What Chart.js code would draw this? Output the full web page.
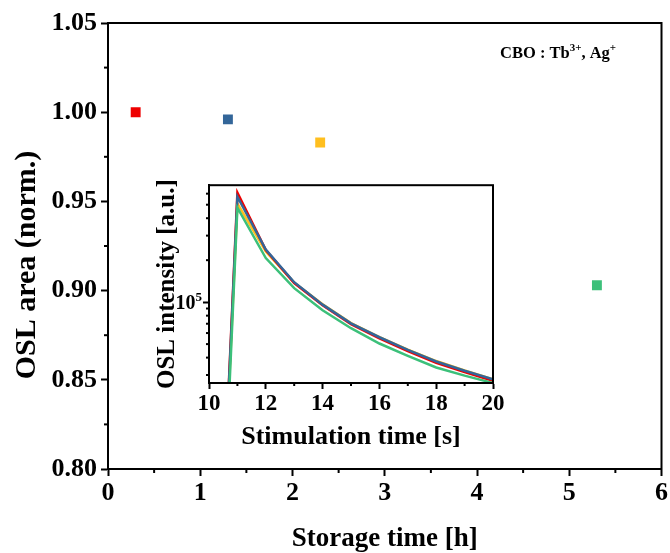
<!DOCTYPE html>
<html>
<head>
<meta charset="utf-8">
<script src="https://cdn.jsdelivr.net/npm/chart.js@4"></script>
<style>
  body { margin: 0; background: #fff; }
  #wrap { position: relative; width: 670px; height: 553px; }
  #main { position: absolute; left: 0; top: 0; }
  #inset { position: absolute; left: 140px; top: 175px; }
</style>
</head>
<body>
<div id="wrap">
  <canvas id="main" width="670" height="553"></canvas>
  <canvas id="inset" width="370" height="280"></canvas>
</div>
<script>
// main plot: normalised OSL area vs storage time
const storageHours = [0.3, 1.3, 2.3, 5.3];
const oslArea = [1.000, 0.996, 0.983, 0.903];
const pointColors = ["#ee0000", "#336699", "#ffbf1f", "#3cc07a"];
const storageTicks = [0, 1, 2, 3, 4, 5, 6];
const areaTicks = [0.80, 0.85, 0.90, 0.95, 1.00, 1.05];

// inset: OSL decay curves
const stimTime = [10, 11, 12, 13, 14, 15, 16, 17, 18, 19, 20];
const curveRed    = [18, 6.1e5, 2.36e5, 1.37e5, 9.5e4, 6.95e4, 5.5e4, 4.45e4, 3.67e4, 3.15e4, 2.73e4];
const curveBlue   = [18, 5.7e5, 2.38e5, 1.39e5, 9.6e4, 7.05e4, 5.6e4, 4.55e4, 3.75e4, 3.22e4, 2.8e4];
const curveYellow = [18, 5.1e5, 2.31e5, 1.38e5, 9.65e4, 7.08e4, 5.62e4, 4.57e4, 3.78e4, 3.23e4, 2.8e4];
const curveGreen  = [12, 4.76e5, 2.07e5, 1.26e5, 8.75e4, 6.5e4, 5.05e4, 4.12e4, 3.4e4, 2.97e4, 2.63e4];
const stimTicks = [10, 12, 14, 16, 18, 20];

Chart.defaults.font.family = "'Liberation Serif', 'Times New Roman', serif";
Chart.defaults.font.weight = "bold";
Chart.defaults.color = "#000";

// box around the plot area + short minor ticks + optional texts
const frame = {
  id: "frame",
  afterDraw(chart, args, opts) {
    const { ctx, chartArea: a } = chart;
    ctx.save();
    ctx.strokeStyle = "#000";
    ctx.lineWidth = 2;
    ctx.strokeRect(a.left, a.top, a.right - a.left, a.bottom - a.top);
    (opts.minor || []).forEach((m) => {
      const s = chart.scales[m.axis];
      m.values.forEach((v) => {
        const p = s.getPixelForValue(v);
        ctx.beginPath();
        if (s.isHorizontal()) {
          ctx.moveTo(p, a.bottom);
          ctx.lineTo(p, a.bottom + m.len);
        } else {
          ctx.moveTo(a.left, p);
          ctx.lineTo(a.left - m.len, p);
        }
        ctx.stroke();
      });
    });
    if (opts.draw) opts.draw(chart, ctx);
    ctx.restore();
  },
};

// text with raised parts, e.g. [["Tb", false], ["3+", true]]
function drawParts(ctx, parts, x, y, size, align) {
  const sup = Math.round(size * 0.65);
  let w = 0;
  parts.forEach(([t, up]) => {
    ctx.font = "bold " + (up ? sup : size) + "px 'Liberation Serif'";
    w += ctx.measureText(t).width;
  });
  let cx = align === "right" ? x - w : x;
  ctx.textBaseline = "alphabetic";
  ctx.textAlign = "left";
  ctx.fillStyle = "#000";
  parts.forEach(([t, up]) => {
    ctx.font = "bold " + (up ? sup : size) + "px 'Liberation Serif'";
    ctx.fillText(t, cx, up ? y - size * 0.4 : y);
    cx += ctx.measureText(t).width;
  });
}

new Chart(document.getElementById("main"), {
  type: "scatter",
  data: {
    datasets: [
      {
        data: storageHours.map((h, i) => ({ x: h, y: oslArea[i] })),
        pointStyle: "rect",
        pointRadius: 7,
        pointHoverRadius: 7,
        backgroundColor: pointColors,
        borderColor: pointColors,
        borderWidth: 0,
      },
    ],
  },
  options: {
    responsive: false,
    animation: false,
    layout: { padding: { top: 23, right: 8, left: 0, bottom: 0 } },
    plugins: {
      legend: { display: false },
      tooltip: { enabled: false },
      frame: {
        minor: [
          { axis: "x", len: 4, values: [0.5, 1.5, 2.5, 3.5, 4.5, 5.5] },
          { axis: "y", len: 4, values: [0.825, 0.875, 0.925, 0.975, 1.025] },
        ],
        draw(chart, ctx) {
          drawParts(ctx, [["CBO : Tb", false], ["3+", true], [", Ag", false], ["+", true]], 500, 58, 16.5, "left");
          // y title, sits a little below the middle of the axis in the original
          ctx.save();
          ctx.translate(27, 265);
          ctx.rotate(-Math.PI / 2);
          ctx.font = "bold 30px 'Liberation Serif'";
          ctx.textAlign = "center";
          ctx.textBaseline = "middle";
          ctx.fillText("OSL area (norm.)", 0, 0);
          ctx.restore();
        },
      },
    },
    scales: {
      x: {
        type: "linear",
        min: 0,
        max: 6,
        afterBuildTicks: (s) => { s.ticks = storageTicks.map((v) => ({ value: v })); },
        afterFit: (s) => { s.height = 84; },
        border: { display: true, width: 2, color: "#000" },
        grid: { drawOnChartArea: false, drawTicks: true, tickLength: 7, tickWidth: 2, tickColor: "#000" },
        ticks: { font: { size: 26 }, padding: 2, callback: (v) => String(v) },
        title: { display: true, text: "Storage time [h]", font: { size: 27, lineHeight: 1 }, padding: { top: 0, bottom: 0 } },
      },
      y: {
        type: "linear",
        min: 0.8,
        max: 1.05,
        afterBuildTicks: (s) => { s.ticks = areaTicks.map((v) => ({ value: v })); },
        afterFit: (s) => { s.width = 108; },
        border: { display: true, width: 2, color: "#000" },
        grid: { drawOnChartArea: false, drawTicks: true, tickLength: 7, tickWidth: 2, tickColor: "#000" },
        ticks: { font: { size: 26 }, padding: 4, callback: (v) => Number(v).toFixed(2) },
        title: { display: false },
      },
    },
  },
  plugins: [frame],
});

const lineSet = (data, color) => ({
  data: data,
  borderColor: color,
  backgroundColor: color,
  borderWidth: 2.5,
  pointRadius: 0,
  tension: 0,
});

new Chart(document.getElementById("inset"), {
  type: "line",
  data: {
    labels: stimTime,
    datasets: [
      lineSet(curveGreen, "#3cc07a"),
      lineSet(curveBlue, "#336699"),
      lineSet(curveRed, "#ee0000"),
      lineSet(curveYellow, "#ffbf1f"),
    ],
  },
  options: {
    responsive: false,
    animation: false,
    layout: { padding: { top: 10, right: 17, left: 0, bottom: 0 } },
    plugins: {
      legend: { display: false },
      tooltip: { enabled: false },
      frame: {
        minor: [
          { axis: "x", len: 3, values: [11, 13, 15, 17, 19] },
          { axis: "y", len: 3, values: [3e4, 4e4, 5e4, 6e4, 7e4, 8e4, 9e4, 2e5, 3e5, 4e5, 5e5, 6e5] },
        ],
        draw(chart, ctx) {
          const y = chart.scales.y.getPixelForValue(1e5);
          drawParts(ctx, [["10", false], ["5", true]], chart.chartArea.left - 7, y + 7, 20, "right");
        },
      },
    },
    scales: {
      x: {
        type: "linear",
        min: 10,
        max: 20,
        afterBuildTicks: (s) => { s.ticks = stimTicks.map((v) => ({ value: v })); },
        afterFit: (s) => { s.height = 72; },
        border: { display: true, width: 2, color: "#000" },
        grid: { drawOnChartArea: false, drawTicks: true, tickLength: 6, tickWidth: 2, tickColor: "#000" },
        ticks: { font: { size: 23 }, padding: 1, callback: (v) => String(v) },
        title: { display: true, text: "Stimulation time [s]", font: { size: 26, lineHeight: 1 }, padding: { top: 0, bottom: 5 } },
      },
      y: {
        type: "logarithmic",
        min: 2.63e4,
        max: 6.9e5,
        afterBuildTicks: (s) => { s.ticks = [{ value: 1e5 }]; },
        afterFit: (s) => { s.width = 69; },
        border: { display: true, width: 2, color: "#000" },
        grid: { drawOnChartArea: false, drawTicks: true, tickLength: 6, tickWidth: 2, tickColor: "#000" },
        ticks: { callback: () => "" },
        title: { display: true, text: "OSL intensity [a.u.]", font: { size: 25, lineHeight: 1 }, padding: { top: 15, bottom: 0 } },
      },
    },
  },
  plugins: [frame],
});
</script>
</body>
</html>
